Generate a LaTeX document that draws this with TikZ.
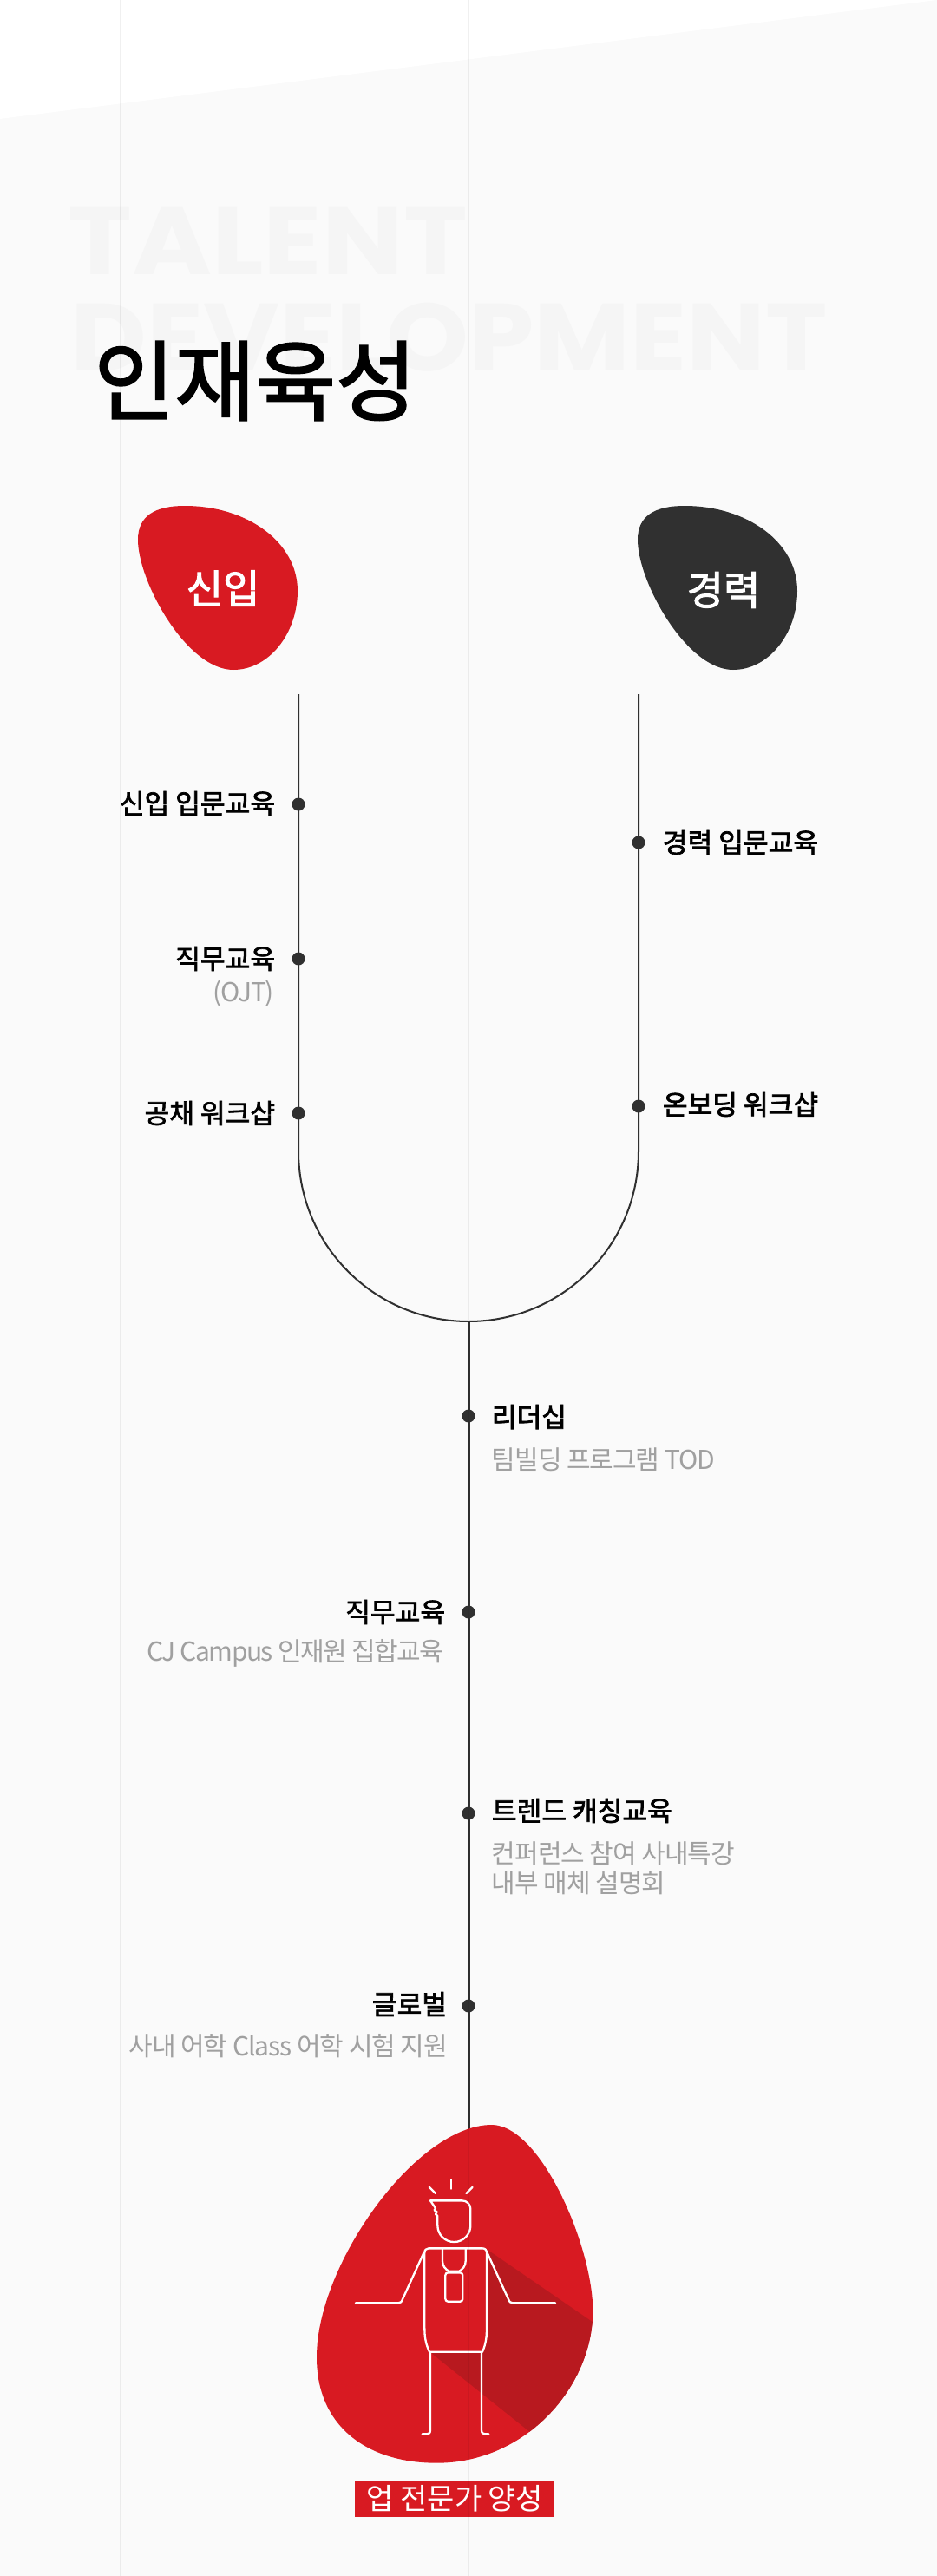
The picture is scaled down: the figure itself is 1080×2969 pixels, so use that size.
\documentclass[tikz,border=0pt]{standalone}
\usepackage{xcolor}
\usepackage{fontspec}
\setmainfont{Noto Sans CJK KR}
\newfontfamily\bgfont{Poppins}
\newfontfamily\lightfont[LetterSpace=-3.5]{Noto Sans CJK KR}
\newfontfamily\lighterfont[LetterSpace=-5]{Noto Sans CJK KR}
\newcommand{\heavier}[1]{\special{pdf:code 2 Tr #1 w}}
\definecolor{pagebg}{HTML}{FAFAFA}
\definecolor{bgword}{HTML}{F5F5F5}
\definecolor{cjred}{HTML}{D81A22}
\definecolor{cjshade}{HTML}{B8191F}
\definecolor{cjdark}{HTML}{303030}
\definecolor{subgray}{HTML}{A0A0A0}
\tikzset{
  stopdot/.style={circle,fill=cjdark,inner sep=0pt,minimum size=7.5pt},
  headtext/.style={inner sep=0.75pt,font=\fontsize{15.6}{18}\selectfont,text=black},
  subtext/.style={inner sep=0.75pt,font=\lightfont\fontsize{15}{18}\selectfont,text=subgray},
  figline/.style={draw=white,line width=1.15pt,line cap=round,line join=round},
}
\begin{document}
\begin{tikzpicture}[x=0.5pt,y=-0.5pt]
\useasboundingbox (0,0) rectangle (1080,2969);
\fill[pagebg] (0,0) rectangle (1080,2969);
\fill[white] (0,0) -- (1080,0) -- (0,137) -- cycle;
%Background words
\draw (78,278) node (wordtalent) [anchor=west][inner sep=0pt][text=bgword][xscale=1.135] {\bgfont\bfseries\fontsize{55}{60}\selectfont TALENT};
\draw (81,389) node (wordgrowth) [anchor=west][inner sep=0pt][text=bgword][xscale=1.097] {\bgfont\bfseries\fontsize{55}{60}\selectfont DEVELOPMENT};
\draw (108,439) node (title) [anchor=west][inner sep=0pt] {\heavier{1}\fontsize{50.5}{54}\selectfont 인재육성};
%Track
\coordinate (newtop) at (344,800);
\coordinate (newend) at (344,1327);
\coordinate (cartop) at (736,800);
\coordinate (merge) at (540,1523);
\coordinate (bigtop) at (540,2456);
\draw[cjdark,line width=1pt] (newtop) -- (newend) arc(180:0:196) -- (cartop);
\draw[cjdark,line width=1.5pt] (merge) -- (bigtop);
%Blobs
\def\smallblob{(213,583) .. controls (285,583) and (343,625) .. (343,681) .. controls (343,730) and (310,772) .. (269,772) .. controls (215,772) and (159,670) .. (159,622) .. controls (159,595) and (178,583) .. (213,583) -- cycle}
\fill[cjred] \smallblob;
\fill[cjdark,shift={(576,0)}] \smallblob;
\draw (257,678) node (newhead) [inner sep=0pt][text=white] {\heavier{0.5}\fontsize{23}{26}\selectfont 신입};
\draw (834,680) node (carhead) [inner sep=0pt][text=white] {\heavier{0.5}\fontsize{23}{26}\selectfont 경력};
%Stops
\node (newa) [stopdot] at (344,927) {};
\node (newb) [stopdot] at (344,1105) {};
\node (newc) [stopdot] at (344,1283) {};
\node (cara) [stopdot] at (736,971) {};
\node (carb) [stopdot] at (736,1275) {};
\node (stepa) [stopdot] at (540,1632) {};
\node (stepb) [stopdot] at (540,1858) {};
\node (stepc) [stopdot] at (540,2090) {};
\node (stepd) [stopdot] at (540,2312) {};
%Text
\draw (319,926) node (newatext) [anchor=east][headtext] {\heavier{0.35}신입 입문교육};
\draw (319,1105) node (newbtext) [anchor=east][headtext] {\heavier{0.35}직무교육};
\draw (318,1145) node (newbsub) [anchor=east][subtext] {(OJT)};
\draw (319,1283) node (newctext) [anchor=east][headtext] {\heavier{0.35}공채 워크샵};
\draw (762,971) node (caratext) [anchor=west][headtext] {\heavier{0.35}경력 입문교육};
\draw (762,1273) node (carbtext) [anchor=west][headtext] {\heavier{0.35}온보딩 워크샵};
\draw (565,1633) node (stepatext) [anchor=west][headtext] {\heavier{0.35}리더십};
\draw (565,1682) node (stepasub) [anchor=west][subtext] {팀빌딩 프로그램 TOD};
\draw (515,1858) node (stepbtext) [anchor=east][headtext] {\heavier{0.35}직무교육};
\draw (513,1905) node (stepbsub) [anchor=east][subtext,font=\lighterfont\fontsize{15}{18}\selectfont] {CJ Campus 인재원 집합교육};
\draw (565,2087) node (stepctext) [anchor=west][headtext] {\heavier{0.35}트렌드 캐칭교육};
\draw (565,2136) node (stepcsub) [anchor=west][subtext] {컨퍼런스 참여 사내특강};
\draw (565,2170) node (stepcsubb) [anchor=west][subtext] {내부 매체 설명회};
\draw (517,2310) node (stepdtext) [anchor=east][headtext] {\heavier{0.35}글로벌};
\draw (518,2358) node (stepdsub) [anchor=east][subtext] {사내 어학 Class 어학 시험 지원};
%Big blob and figure
\begin{scope}[shift={(340,2430)},x=0.16667pt,y=-0.16667pt]
\def\bigblob{(680,57) .. controls (850,57) and (1030,480) .. (1030,700) .. controls (1030,960) and (800,1226) .. (490,1226) .. controls (250,1226) and (75,1100) .. (75,860) .. controls (75,540) and (420,57) .. (680,57) -- cycle}
\fill[cjred] \bigblob;
\begin{scope}
\clip \bigblob;
\fill[cjshade] (660,485) -- (1060,760) -- (1060,1100) -- (845,1145) -- (470,845) -- (650,845) -- (665,760) -- (665,500) -- cycle;
\end{scope}
\draw[figline] (539,247) -- (539,278);
\draw[figline] (464,272) -- (486,294);
\draw[figline] (614,272) -- (592,294);
\draw[figline] (468,319) -- (578,319) arc(-90:0:29) -- (607,405) arc(0:180:57) -- (493,372) -- (486,366) -- (491,358) -- (482,352) -- (486,345) -- cycle;
\draw[figline] (465,842) .. controls (452,815) and (448,790) .. (448,760) -- (448,500) .. controls (448,490) and (453,484) .. (462,484) -- (648,484) .. controls (658,484) and (663,490) .. (663,500) -- (663,760) .. controls (663,790) and (660,815) .. (648,842) -- cycle;
\draw[figline] (445,500) -- (372,660) .. controls (368,670) and (364,673) .. (356,673) -- (210,673);
\draw[figline] (665,500) -- (738,660) .. controls (742,670) and (746,673) .. (754,673) -- (900,673);
\draw[figline] (468,845) -- (468,1112) .. controls (468,1122) and (464,1126) .. (456,1126) -- (440,1126);
\draw[figline] (645,845) -- (645,1112) .. controls (645,1122) and (649,1126) .. (657,1126) -- (670,1126);
\draw[figline] (510,486) -- (510,528) .. controls (510,545) and (520,556) .. (532,563) -- (568,563) .. controls (580,556) and (590,545) .. (590,528) -- (590,486);
\draw[figline,rounded corners=1.5pt] (520,568) rectangle (580,668);
\end{scope}
\draw (524,2880) node (goal) [fill=cjred,minimum width=115pt,minimum height=21pt,inner sep=0pt][text=white] {\fontsize{17}{20}\selectfont 업 전문가 양성};
%Grid
\foreach \gx in {138,540,932}
  \draw[black,opacity=0.06,line width=0.5pt] (\gx,0) -- (\gx,2969);
\end{tikzpicture}
\end{document}
